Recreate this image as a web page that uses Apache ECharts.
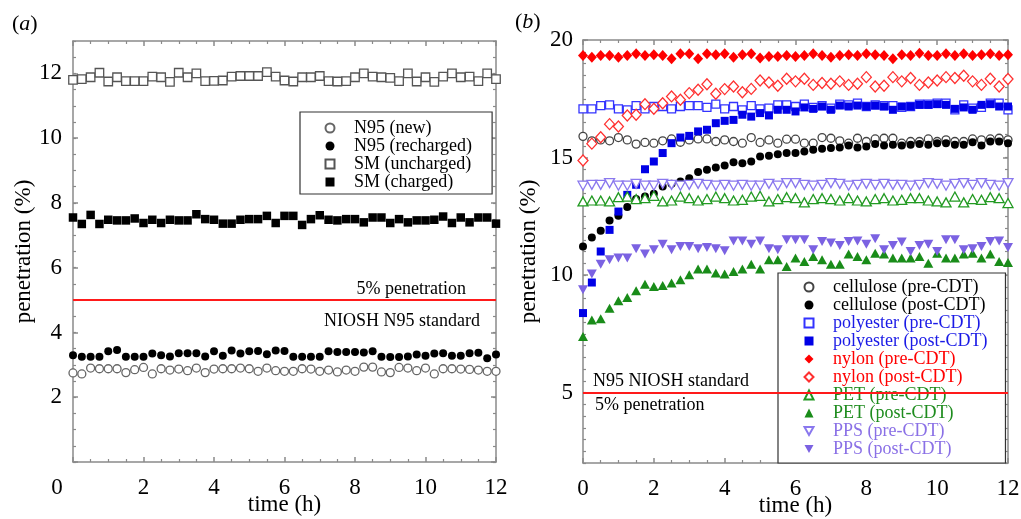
<!DOCTYPE html>
<html><head><meta charset="utf-8">
<script src="https://cdn.jsdelivr.net/npm/echarts@6/dist/echarts.min.js"></script>
<style>html,body{margin:0;padding:0;background:#fff}#c{width:1021px;height:519px}</style>
</head><body><div id="c"></div>
<script>
const FONT = 'Liberation Serif';
const times = [0,0.25,0.5,0.75,1,1.25,1.5,1.75,2,2.25,2.5,2.75,3,3.25,3.5,3.75,4,4.25,4.5,4.75,5,5.25,5.5,5.75,6,6.25,6.5,6.75,7,7.25,7.5,7.75,8,8.25,8.5,8.75,9,9.25,9.5,9.75,10,10.25,10.5,10.75,11,11.25,11.5,11.75,12];
const xTicks = [0,2,4,6,8,10,12];
const yTicksA = [2,4,6,8,10,12];
const yTicksB = [5,10,15,20];

// panel (a)
const n95New = [2.75,2.72,2.9,2.88,2.88,2.88,2.76,2.85,2.92,2.72, 2.88,2.84,2.87,2.82,2.9,2.76,2.87,2.88,2.88,2.9, 2.88,2.8,2.9,2.82,2.8,2.8,2.88,2.87,2.8,2.84, 2.78,2.84,2.8,2.93,2.93,2.78,2.76,2.92,2.9,2.82, 2.9,2.72,2.88,2.88,2.87,2.86,2.84,2.8,2.8];
const n95Re = [3.3,3.25,3.25,3.25,3.42,3.46,3.25,3.25,3.25,3.35, 3.3,3.26,3.36,3.36,3.36,3.26,3.42,3.28,3.44,3.35, 3.42,3.43,3.33,3.44,3.43,3.25,3.25,3.25,3.25,3.42, 3.4,3.4,3.4,3.38,3.42,3.25,3.24,3.24,3.26,3.32, 3.28,3.35,3.36,3.28,3.28,3.36,3.37,3.2,3.32];
const smUn = [11.8,11.82,11.88,12.02,11.75,11.88,11.76,11.76,11.76,11.9, 11.88,11.74,12.02,11.88,12.0,11.76,11.77,11.78,11.9,11.92, 11.92,11.92,12.04,11.9,11.78,11.75,11.88,11.88,11.92,11.76, 11.75,11.76,11.88,12.0,11.9,11.88,11.86,11.76,12.0,11.75, 11.88,11.74,11.9,12.0,11.88,11.9,11.76,12.0,11.82];
const smCh = [7.55,7.35,7.63,7.35,7.48,7.46,7.46,7.52,7.38,7.48, 7.38,7.48,7.46,7.46,7.65,7.5,7.48,7.36,7.36,7.48, 7.5,7.5,7.6,7.38,7.6,7.6,7.32,7.5,7.62,7.48, 7.46,7.5,7.5,7.4,7.55,7.55,7.38,7.5,7.4,7.46, 7.46,7.48,7.58,7.38,7.55,7.4,7.55,7.55,7.36];

// panel (b)
const cellPre = [15.9,15.71,15.75,15.71,15.85,15.75,15.57,15.64,15.61,15.71, 15.79,15.65,15.75,15.79,15.79,15.68,15.75,15.68,15.61,15.85, 15.64,15.75,15.61,15.78,15.78,15.61,15.61,15.85,15.82,15.71, 15.61,15.82,15.68,15.79,15.82,15.82,15.61,15.68,15.68,15.79, 15.68,15.75,15.68,15.68,15.79,15.75,15.79,15.82,15.75];
const cellPost = [11.21,11.6,11.88,12.32,12.52,12.89,13.23,13.34,13.46,13.77, 13.88,13.98,14.12,14.38,14.48,14.57,14.66,14.8,14.76,14.83, 15.04,15.07,15.14,15.19,15.19,15.26,15.33,15.37,15.4,15.43, 15.51,15.43,15.47,15.57,15.51,15.54,15.51,15.54,15.57,15.54, 15.61,15.61,15.54,15.54,15.65,15.51,15.68,15.68,15.61];
const polyPre = [17.07,17.07,17.21,17.24,17.07,17.03,17.21,17.07,17.17,17.17, 17.07,17.17,17.21,17.21,17.13,17.27,17.07,17.17,17.03,17.21, 17.07,17.1,17.24,17.24,17.17,17.27,17.13,17.21,17.1,17.27, 17.24,17.31,17.17,17.24,17.21,17.21,17.13,17.17,17.27,17.27, 17.31,17.31,17.03,17.24,17.1,17.13,17.31,17.31,17.03];
const polyPost = [8.38,9.68,11.0,11.92,12.7,13.41,13.84,14.5,14.83,15.19, 15.61,15.85,15.92,16.11,16.18,16.46,16.56,16.6,16.82,16.74, 16.89,16.79,17.03,17.03,16.96,17.13,17.07,17.17,17.03,17.21, 17.17,17.21,17.17,17.21,17.17,17.03,17.17,17.17,17.24,17.24, 17.27,17.24,17.07,17.13,17.03,17.24,17.27,17.17,17.17];
const nylonPre = [19.34,19.27,19.34,19.34,19.27,19.34,19.41,19.34,19.37,19.34, 19.2,19.41,19.41,19.2,19.41,19.37,19.41,19.27,19.37,19.41, 19.23,19.3,19.3,19.34,19.3,19.34,19.41,19.34,19.27,19.34, 19.37,19.34,19.41,19.37,19.34,19.2,19.37,19.34,19.44,19.34, 19.34,19.41,19.34,19.41,19.34,19.37,19.41,19.34,19.37];
const nylonPost = [14.87,15.59,15.86,16.42,16.32,16.79,16.82,17.27,17.07,17.31, 17.6,17.46,17.74,17.88,18.12,17.71,17.91,18.02,17.78,17.92, 18.28,18.19,18.05,18.35,18.24,18.35,18.09,18.17,18.14,18.24, 18.09,18.14,18.42,18.02,18.05,18.42,18.24,18.38,18.09,18.19, 18.28,18.42,18.38,18.48,18.24,18.09,18.35,18.02,18.34];
const petPre = [13.13,13.17,13.17,13.13,13.31,13.34,13.23,13.27,13.37,13.13, 13.17,13.34,13.27,13.17,13.23,13.34,13.27,13.17,13.2,13.34, 13.37,13.13,13.23,13.31,13.27,13.09,13.23,13.27,13.23,13.17, 13.27,13.17,13.13,13.23,13.27,13.17,13.2,13.27,13.27,13.17, 13.13,13.09,13.34,13.09,13.23,13.2,13.31,13.27,13.06];
const petPost = [7.38,8.09,8.14,8.59,8.9,9.04,9.33,9.61,9.51,9.55, 9.66,9.8,10.01,10.26,10.26,10.08,10.04,10.15,10.26,10.46, 10.26,10.65,10.65,10.36,10.72,10.57,10.79,10.65,10.46,10.46, 10.89,10.79,10.65,10.93,10.89,10.72,10.72,10.72,10.79,10.5, 10.93,10.72,10.72,10.89,10.93,10.72,10.89,10.57,10.53];
const ppsPre = [13.8,13.84,13.84,13.91,13.8,13.8,13.88,13.8,13.8,13.88, 13.84,13.8,13.84,13.88,13.84,13.8,13.84,13.8,13.84,13.8, 13.8,13.88,13.8,13.91,13.91,13.84,13.8,13.84,13.91,13.88, 13.8,13.84,13.88,13.84,13.88,13.84,13.84,13.8,13.84,13.91, 13.88,13.8,13.88,13.91,13.84,13.91,13.84,13.8,13.91];
const ppsPost = [9.37,10.04,10.46,10.65,10.72,10.72,11.12,10.89,11.07,11.31, 11.07,11.21,11.21,11.12,11.17,11.12,11.03,11.45,11.45,11.31, 11.45,11.12,11.07,11.5,11.5,11.5,11.07,11.43,11.36,11.26, 11.43,11.45,11.31,11.54,11.07,11.26,11.4,11.0,11.26,11.31, 11.0,11.5,11.5,11.07,11.12,11.21,11.43,11.45,11.17];

const pts = vals => vals.map((v, i) => [times[i], v]);
const DOWN = 'path://M0,0L10,0L5,9Z';

function mk(name, vals, gi, symbol, size, color, open) {
  return {
    type: 'scatter', name, data: pts(vals), xAxisIndex: gi === 0 ? 0 : 2, yAxisIndex: gi === 0 ? 0 : 2,
    symbol, symbolSize: size, silent: true,
    itemStyle: open ? { color: '#fff', borderColor: color, borderWidth: 1.3, opacity: 1 } : { color: color, borderWidth: 0, opacity: 1 }
  };
}

const axisLineStyle = { color: '#8a8a8a', width: 1.5 };
function xAx(gi, pos, labels) {
  return {
    type: 'value', gridIndex: gi, position: pos, min: 0, max: 12, interval: 2,
    axisLine: { show: true, onZero: false, lineStyle: axisLineStyle },
    axisTick: { show: true, inside: true, length: 5, lineStyle: axisLineStyle },
    minorTick: { show: true, splitNumber: 4, length: 3, lineStyle: { color: '#8a8a8a', width: 1.2 } },
    splitLine: { show: false },
    axisLabel: labels ? {
      show: true, margin: 14, color: '#000', fontFamily: FONT, fontSize: 23,
      customValues: xTicks,
      formatter: v => (gi === 0 && v === 0) ? '{z|0}' : String(v),
      rich: { z: { padding: [0, 32, 0, 0], fontFamily: FONT, fontSize: 23, color: '#000' } }
    } : { show: false },
    name: labels ? 'time (h)' : '', nameLocation: 'middle', nameGap: 31, nameMoveOverlap: false,
    nameTextStyle: { fontFamily: FONT, fontSize: 23, color: '#000' }
  };
}
function yMajor(gi, pos, min, max, ticks, labelTicks, labels, margin, nameGap) {
  return {
    type: 'value', gridIndex: gi, position: pos, min, max,
    axisLine: { show: true, onZero: false, lineStyle: axisLineStyle },
    axisTick: { show: true, inside: true, length: 5, customValues: ticks, lineStyle: axisLineStyle },
    splitLine: { show: false },
    axisLabel: labels ? { show: true, margin, color: '#000', fontFamily: FONT, fontSize: 23, customValues: labelTicks } : { show: false },
    name: labels ? 'penetration (%)' : '', nameLocation: 'middle', nameGap: nameGap || 0, nameMoveOverlap: false,
    nameTextStyle: { fontFamily: FONT, fontSize: 23, color: '#000' }
  };
}
function yMinor(gi, pos, min, max) {
  return {
    type: 'value', gridIndex: gi, position: pos, min, max, interval: 0.5,
    axisLine: { show: false }, splitLine: { show: false }, axisLabel: { show: false },
    axisTick: { show: true, inside: true, length: 3, lineStyle: { color: '#8a8a8a', width: 1.2 } }
  };
}

const gA = { left: 73, top: 41, width: 423, height: 421, containLabel: false, outerBoundsMode: 'none' };
const gB = { left: 583, top: 40, width: 425, height: 423, containLabel: false, outerBoundsMode: 'none' };

const legendText = { fontFamily: FONT, fontSize: 18, lineHeight: 18, color: '#000', padding: [0, 0, 0, 14.5] };

const seriesA = [
  mk('N95 (new)', n95New, 0, 'circle', 8, '#666', true),
  mk('N95 (recharged)', n95Re, 0, 'circle', 8, '#000', false),
  mk('SM (uncharged)', smUn, 0, 'rect', 8.5, '#555', true),
  mk('SM (charged)', smCh, 0, 'rect', 8.5, '#000', false)
];
seriesA[3].markLine = {
  silent: true, symbol: 'none', animation: false,
  lineStyle: { color: '#ff1a1a', width: 2, type: 'solid' },
  data: [
    { yAxis: 5, label: { show: true, position: 'insideEndTop', formatter: '5% penetration', fontFamily: FONT, fontSize: 18, color: '#000', padding: [0, 28, 0, 0], distance: 2 } },
    { yAxis: 5, label: { show: true, position: 'insideEndBottom', formatter: 'NIOSH N95 standard', fontFamily: FONT, fontSize: 18, color: '#000', padding: [0, 4, 0, 0], distance: 12 } }
  ]
};

const seriesB = [
  mk('cellulose (pre-CDT)', cellPre, 1, 'circle', 8, '#444', true),
  mk('cellulose (post-CDT)', cellPost, 1, 'circle', 8, '#000', false),
  mk('polyester (pre-CDT)', polyPre, 1, 'rect', 8, '#3333ff', true),
  mk('polyester (post-CDT)', polyPost, 1, 'rect', 8, '#0000e6', false),
  mk('nylon (pre-CDT)', nylonPre, 1, 'diamond', [10, 11], '#ff0000', false),
  mk('nylon (post-CDT)', nylonPost, 1, 'diamond', [10, 11], '#ff3030', true),
  mk('PET (pre-CDT)', petPre, 1, 'triangle', [10, 9], '#229a22', true),
  mk('PET (post-CDT)', petPost, 1, 'triangle', [10, 9], '#198c19', false),
  mk('PPS (pre-CDT)', ppsPre, 1, DOWN, [10, 9], '#8a78ee', true),
  mk('PPS (post-CDT)', ppsPost, 1, DOWN, [10, 9], '#7b62e2', false)
];
seriesB[0].markLine = {
  silent: true, symbol: 'none', animation: false,
  lineStyle: { color: '#ff1a1a', width: 2, type: 'solid' },
  data: [
    { yAxis: 5, label: { show: true, position: 'insideStartTop', formatter: 'N95 NIOSH standard', fontFamily: FONT, fontSize: 18, color: '#000', padding: [0, 0, 0, 8], distance: 2 } },
    { yAxis: 5, label: { show: true, position: 'insideStartBottom', formatter: '5% penetration', fontFamily: FONT, fontSize: 18, color: '#000', padding: [0, 0, 0, 8], distance: 4 } }
  ]
};

const legColors = { cellulose: '#000', polyester: '#1a1ae6', nylon: '#ff0000', PET: '#1e8c1e', PPS: '#8a70e6' };

const option = {
  backgroundColor: '#fff',
  animation: false,
  title: [
    { text: '({i|a})', left: 7, top: 8, textStyle: { fontFamily: FONT, fontSize: 22, fontWeight: 'normal', color: '#000', rich: { i: { fontFamily: FONT, fontSize: 22, fontStyle: 'italic', color: '#000' } } } },
    { text: '({i|b})', left: 510, top: 6, textStyle: { fontFamily: FONT, fontSize: 22, fontWeight: 'normal', color: '#000', rich: { i: { fontFamily: FONT, fontSize: 22, fontStyle: 'italic', color: '#000' } } } }
  ],
  grid: [gA, gB, gA, gB],
  xAxis: [
    xAx(0, 'bottom', true), xAx(0, 'top', false),
    xAx(1, 'bottom', true), xAx(1, 'top', false),
    { type: 'value', gridIndex: 2, min: 0, max: 12, show: false },
    { type: 'value', gridIndex: 3, min: 0, max: 12, show: false }
  ],
  yAxis: [
    yMajor(0, 'left', 0, 13, [0].concat(yTicksA), yTicksA, true, 11, 38),
    yMajor(0, 'right', 0, 13, [0].concat(yTicksA), yTicksA, false),
    yMajor(1, 'left', 2, 20, yTicksB, yTicksB, true, 10, 43),
    yMajor(1, 'right', 2, 20, yTicksB, yTicksB, false),
    yMinor(2, 'left', 0, 13), yMinor(2, 'right', 0, 13),
    yMinor(3, 'left', 2, 20), yMinor(3, 'right', 2, 20)
  ],
  legend: [
    {
      orient: 'vertical', left: 300, top: 112, itemWidth: 9, itemHeight: 9, itemGap: 0,
      padding: [7, 20, 3, 24.5], backgroundColor: '#fff', borderColor: '#333', borderWidth: 1.2,
      textStyle: legendText, selectedMode: false,
      data: seriesA.map(s => ({ name: s.name }))
    },
    {
      orient: 'vertical', left: 778, top: 273, itemWidth: 9, itemHeight: 9, itemGap: 0,
      padding: [5, 18, 5, 25.5], backgroundColor: '#fff', borderColor: '#333', borderWidth: 1.2,
      textStyle: legendText, selectedMode: false,
      data: seriesB.map(s => ({ name: s.name, textStyle: { color: legColors[s.name.split(' ')[0]] } }))
    }
  ],
  series: seriesA.concat(seriesB)
};
const chart = echarts.init(document.getElementById('c'));
chart.setOption(option);
</script></body></html>
